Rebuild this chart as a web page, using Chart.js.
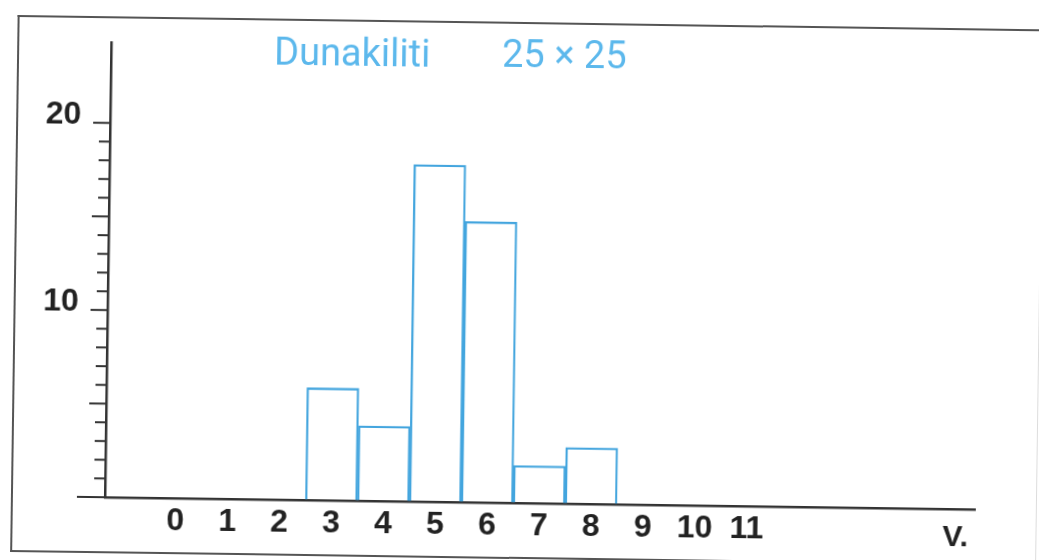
<!DOCTYPE html>
<html lang="hu">
<head>
    <meta charset="UTF-8">
    <title>Dunakiliti 25 x 25</title>
    <script src="https://cdn.jsdelivr.net/npm/chart.js@4.4.0/dist/chart.umd.min.js"></script>
    <style>
        html, body { margin: 0; padding: 0; background: #fff; overflow: hidden; }
        /* the scan is a little rotated, so the whole sheet is turned */
        #page { position: relative; width: 1039px; height: 560px; transform: rotate(0.8deg); transform-origin: 50% 50%; }
        #frame { position: absolute; left: 14px; top: 22px; width: 1026px; height: 537px;
                 border: 2px solid #555; border-right: 1px solid #ddd; box-sizing: border-box; }
        #c { position: absolute; left: 0; top: 0; }
    </style>
</head>
<body>
<div id="page">
    <div id="frame"></div>
    <canvas id="c" width="1039" height="560"></canvas>
</div>
<script>
    // classes on the x axis
    const tickLabels = ['0', '1', '2', '3', '4', '5', '6', '7', '8', '9', '10', '11'];
    // histogram bins that have counts
    const bins = [3, 4, 5, 6, 7, 8];
    const counts = [6, 4, 18, 15, 2, 3];
    // labelled y ticks
    const yLabels = [10, 20];
    const titleText = 'Dunakiliti';
    const sizeText = '25 \u00d7 25';
    const unitText = 'V.';

    const axisColor = '#333';
    const blue = '#43a5de';
    const tickFont = { family: '"Liberation Sans", Arial, sans-serif', size: 32, weight: 'bold' };

    // y tick marks, longer every 5 and at zero
    const yTickMarks = {
        id: 'yTickMarks',
        afterDraw(chart) {
            const ctx = chart.ctx, ys = chart.scales.y;
            const x0 = ys.right;
            ctx.save();
            ctx.strokeStyle = axisColor;
            ctx.lineWidth = 2;
            ys.ticks.forEach(t => {
                const py = ys.getPixelForValue(t.value);
                let len = 11;
                if (t.value % 5 === 0) len = 17;
                if (t.value === 0) len = 28;
                ctx.beginPath();
                ctx.moveTo(x0 - len, py);
                ctx.lineTo(x0, py);
                ctx.stroke();
            });
            ctx.restore();
        }
    };

    // title and unit text
    const texts = {
        id: 'texts',
        afterDraw(chart) {
            const ctx = chart.ctx, area = chart.chartArea;
            ctx.save();
            ctx.fillStyle = '#5cb8ec';
            ctx.font = '400 38px Roboto, "Open Sans", sans-serif';
            ctx.textBaseline = 'alphabetic';
            ctx.fillText(titleText, 271, 68);
            ctx.fillText(sizeText, 499, 67);
            ctx.fillStyle = '#222';
            ctx.font = 'bold 30px "Liberation Sans", Arial, sans-serif';
            ctx.fillText(unitText, area.right - 32, 540);
            ctx.restore();
        }
    };

    new Chart(document.getElementById('c'), {
        type: 'bar',
        data: {
            datasets: [{
                data: bins.map((b, i) => ({ x: b, y: counts[i] })),
                backgroundColor: 'rgba(255,255,255,0)',
                borderColor: blue,
                borderWidth: 1.6,
                borderSkipped: 'bottom',
                barPercentage: 1,
                categoryPercentage: 1
            }]
        },
        options: {
            responsive: false,
            animation: false,
            layout: { padding: { top: 48, right: 61, left: 0, bottom: 0 } },
            plugins: {
                legend: { display: false },
                tooltip: { enabled: false },
                title: { display: false }
            },
            scales: {
                x: {
                    type: 'linear',
                    min: -1.36,
                    max: 15.39,
                    offset: false,
                    afterFit: s => { s.height = 57; },
                    afterBuildTicks: s => { s.ticks = tickLabels.map((l, i) => ({ value: i })); },
                    grid: { drawOnChartArea: false, drawTicks: false },
                    border: { display: true, color: axisColor, width: 2.5 },
                    ticks: {
                        font: tickFont,
                        color: '#222',
                        padding: 4,
                        maxRotation: 0,
                        autoSkip: false,
                        callback: v => tickLabels[v]
                    }
                },
                y: {
                    min: 0,
                    max: 24.3,
                    afterFit: s => { s.width = 108; },
                    afterBuildTicks: s => {
                        const t = [];
                        for (let v = 0; v <= 20; v++) t.push({ value: v });
                        s.ticks = t;
                    },
                    grid: { drawOnChartArea: false, drawTicks: false },
                    border: { display: true, color: axisColor, width: 2.5 },
                    ticks: {
                        font: tickFont,
                        color: '#222',
                        padding: 29,
                        labelOffset: -8,
                        autoSkip: false,
                        callback: v => yLabels.includes(v) ? String(v) : ''
                    }
                }
            }
        },
        plugins: [yTickMarks, texts]
    });
</script>
</body>
</html>
